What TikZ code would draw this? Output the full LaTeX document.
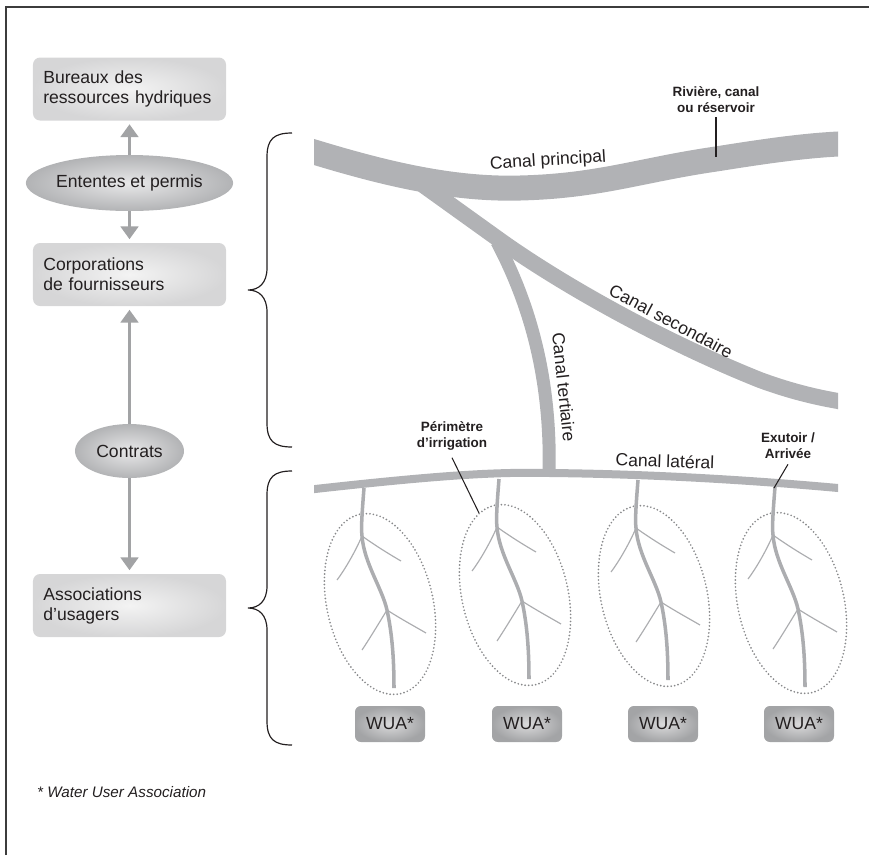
\documentclass[tikz,border=0pt]{standalone}
\usepackage{fontspec}
\setmainfont{Liberation Sans}
\usetikzlibrary{shapes,arrows.meta,positioning,calc}
\hyphenpenalty=10000
\exhyphenpenalty=10000
\definecolor{canalgray}{HTML}{B1B2B5}
\definecolor{arrowgray}{HTML}{A2A3A5}
\definecolor{draingray}{HTML}{ACADB0}
\definecolor{dotgray}{HTML}{88898B}
\definecolor{darktext}{HTML}{231F20}
\definecolor{framegray}{HTML}{3C3C3C}
\definecolor{boxlight}{HTML}{F3F3F3}
\definecolor{boxedge}{HTML}{D6D6D7}
\definecolor{ovallight}{HTML}{E8E8E9}
\definecolor{ovaledge}{HTML}{B2B3B5}
\definecolor{wualight}{HTML}{DADADB}
\definecolor{wuaedge}{HTML}{A3A4A6}
\newcommand{\boxfont}{\fontsize{15}{17}\selectfont}
\newcommand{\tagfont}{\fontsize{11.5}{13.5}\selectfont\bfseries}
\newcommand{\notefont}{\fontsize{13}{15}\selectfont\itshape}
\tikzset{
  actor/.style={rectangle, rounded corners=6pt, inner color=boxlight, outer color=boxedge, text width=5.17cm, inner xsep=0.31cm, inner ysep=0pt, minimum height=1.89cm, align=left, font=\boxfont, text=darktext},
  accord/.style={ellipse, inner sep=0pt, inner color=ovallight, outer color=ovaledge, font=\boxfont, text=darktext},
  wua/.style={rectangle, rounded corners=5pt, inner color=wualight, outer color=wuaedge, minimum width=2.1cm, minimum height=1.08cm, font=\boxfont, text=darktext},
  flow/.style={draw=arrowgray, line width=3pt, -{Triangle[width=15pt,length=11pt]}, shorten >=3pt},
  canal/.style={draw=canalgray, line cap=butt},
  callout/.style={draw=darktext, line width=0.9pt},
  tag/.style={font=\tagfont, align=center, text=darktext, inner sep=1pt},
  canallabel/.style={font=\boxfont, text=darktext, inner sep=1pt},
  perimeter/.style={draw=dotgray, line width=1.6pt, line cap=round, dash pattern=on 0pt off 3pt},
  drainline/.style={draw=draingray, line width=3pt},
  ditch/.style={draw=draingray, line width=1pt},
  bracket/.style={draw=darktext, line width=1pt}
}

\begin{document}
\begin{tikzpicture}[x=0.03cm, y=-0.03cm]
\useasboundingbox (0,0) rectangle (869,855);
\draw[framegray, line width=1.7pt] (6,855) -- (6,7) -- (869,7);

% left column
\node[actor] (bureaux) at (129.5,89) {Bureaux des\\ressources hydriques};
\node[accord, minimum width=5.22cm, minimum height=1.68cm] (ententes) at (129.5,183) {Ententes et permis};
\node[actor] (corporations) at (129.5,274.5) {Corporations\\de fournisseurs};
\node[accord, minimum width=3.27cm, minimum height=1.62cm] (contrats) at (129.5,451) {Contrats};
\node[actor] (associations) at (129.5,605.5) {Associations\\d’usagers};

\draw[flow] (ententes) -- (bureaux);
\draw[flow] (ententes) -- (corporations);
\draw[flow] (contrats) -- (corporations);
\draw[flow] (contrats) -- (associations);

% braces
\foreach \btop/\bbot in {133/447, 471/745}{
  \pgfmathsetmacro{\bmid}{(\btop+\bbot)/2}
  \draw[bracket] (292,\btop) .. controls (274,\btop) and (267,{\btop+6}) .. (267,{\btop+24})
    -- (267,{\bmid-22}) .. controls (267,{\bmid-7}) and (259,\bmid) .. (248,\bmid)
    .. controls (259,\bmid) and (267,{\bmid+7}) .. (267,{\bmid+22})
    -- (267,{\bbot-24}) .. controls (267,{\bbot-6}) and (274,\bbot) .. (292,\bbot);
}

% canals
\begin{scope}
\clip (314,0) rectangle (838,855);
\draw[canal, line width=0.48cm] (423,185) -- (501,241) .. controls (560,283) and (660,340) .. (760,380) .. controls (790,391) and (815,397) .. (838,401) -- (850,404);
\draw[canal, line width=0.39cm] (497,242) .. controls (525,295) and (552,370) .. (549,476);
\draw[canal, line width=0.75cm] (302,148.5) -- (314,152) .. controls (380,172) and (450,190) .. (520,188) .. controls (600,186) and (640,170) .. (716,159) .. controls (760,152) and (800,146) .. (838,144) -- (850,143.5);
\draw[canal, line width=0.24cm] (302,490.5) -- (315,489) .. controls (450,474) and (500,472) .. (550,473) .. controls (650,474) and (750,480) .. (838,488) -- (850,489);
\end{scope}

\node[canallabel, rotate=3.5] (principal) at (548,161) {Canal principal};
\node[canallabel, rotate=-28] (secondaire) at (671,321) {Canal secondaire};
\node[canallabel, rotate=-84] (tertiaire) at (564,387) {Canal tertiaire};
\node[canallabel, rotate=-2] (lateral) at (665,461) {Canal latéral};

% irrigation units
\foreach \ux/\uy/\wx [count=\i] in {364/488/390, 499/479/527, 638/480/663, 775/487/799}{
  \begin{scope}[shift={(\ux,\uy)}]
    \draw[perimeter, rotate around={13:(16,116)}] (16,116) ellipse [x radius=53, y radius=92];
    \draw[drainline] (0,0) .. controls (-2,25) and (-3,40) .. (-2,48) .. controls (0,75) and (18,100) .. (23,122) .. controls (28,145) and (30,170) .. (30,200);
    \draw[ditch] (-2,48) .. controls (-8,62) and (-18,80) .. (-27,92);
    \draw[ditch] (-2,48) .. controls (12,58) and (25,66) .. (37,73);
    \draw[ditch] (23,122) .. controls (15,135) and (6,150) .. (-2,162);
    \draw[ditch] (23,122) .. controls (37,131) and (50,138) .. (62,145);
  \end{scope}
  \node[wua] (wua\i) at (\wx,724) {WUA*};
}

% callouts
\node[tag] (riviere) at (716,100) {Rivière, canal\\ou réservoir};
\node[tag] (perimetre) at (452,436) {Périmètre\\d’irrigation};
\node[tag] (exutoir) at (788,446) {Exutoir /\\Arrivée};
\coordinate (rivpt) at (716,157);
\coordinate (perpt) at (479,513);
\coordinate (exupt) at (774,488);
\draw[callout, line width=1.6pt] (riviere.south) ++(0,3) -- (rivpt);
\draw[callout] (perimetre.south) ++(0,6) -- (perpt);
\draw[callout] (exutoir.south) ++(0,4) -- (exupt);

\node[anchor=west, font=\notefont, text=darktext] (note) at (33,792) {* Water User Association};
\end{tikzpicture}
\end{document}
